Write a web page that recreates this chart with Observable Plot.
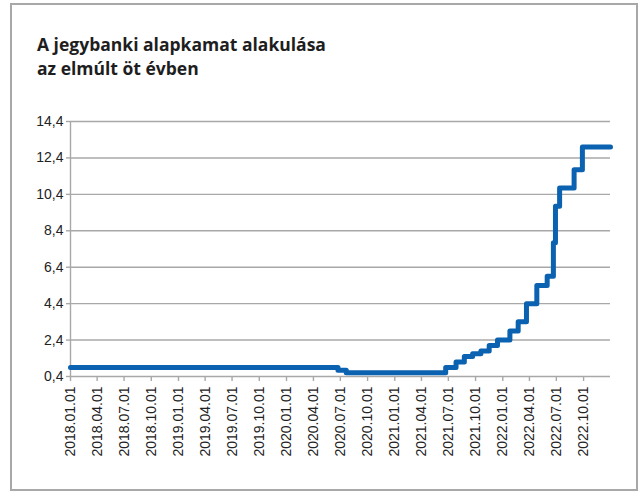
<!DOCTYPE html>
<html>
<head>
<meta charset="utf-8">
<script src="https://cdn.jsdelivr.net/npm/d3@7"></script>
<script src="https://cdn.jsdelivr.net/npm/@observablehq/plot@0.6"></script>
<style>
  html, body { margin: 0; padding: 0; background: #fff; }
  #wrap { position: relative; width: 640px; height: 492px; overflow: hidden; }
  #frame { position: absolute; left: 10px; top: 3px; width: 624px; height: 484px; border: 2px solid #a8a8a8; box-sizing: content-box; }
  #title { position: absolute; left: 37px; top: 32px; font-family: "Open Sans", sans-serif; font-weight: 700; font-size: 17.5px; line-height: 24px; color: #1e1e1e; letter-spacing: 0px; }
  #chart { position: absolute; left: 0; top: 100px; }
</style>
</head>
<body>
<div id="wrap">
  <div id="frame"></div>
  <div id="title">A jegybanki alapkamat alakulása<br>az elmúlt öt évben</div>
  <div id="chart"></div>
</div>
<script>
const changeDates = ["2018-01-01","2020-06-23","2020-07-21","2021-06-22","2021-07-27","2021-08-24","2021-09-21","2021-10-19","2021-11-16","2021-12-14","2022-01-25","2022-02-22","2022-03-22","2022-04-26","2022-05-31","2022-06-21","2022-06-28","2022-07-12","2022-08-30","2022-09-27","2022-12-31"];
const rates = [0.9,0.75,0.6,0.9,1.2,1.5,1.65,1.8,2.1,2.4,2.9,3.4,4.4,5.4,5.9,7.75,9.75,10.75,11.75,13.0,13.0];
const yTicks = [0.4,2.4,4.4,6.4,8.4,10.4,12.4,14.4];
const xTickDates = ["2018-01-01","2018-04-01","2018-07-01","2018-10-01","2019-01-01","2019-04-01","2019-07-01","2019-10-01","2020-01-01","2020-04-01","2020-07-01","2020-10-01","2021-01-01","2021-04-01","2021-07-01","2021-10-01","2022-01-01","2022-04-01","2022-07-01","2022-10-01"];

const data = changeDates.map((d, i) => ({date: new Date(d + "T00:00:00Z"), rate: rates[i]}));
const xTicks = xTickDates.map(d => new Date(d + "T00:00:00Z"));
const fmtX = d3.utcFormat("%Y.%m.%d");
const fmtY = v => v.toFixed(1).replace(".", ",");
const grid = "#a8a8a8";

const chart = Plot.plot({
  width: 640,
  height: 360,
  marginLeft: 70,
  marginRight: 30,
  marginTop: 21,
  marginBottom: 84,
  style: {fontFamily: "'Liberation Sans', Arial, sans-serif", fontSize: "14px", color: "#222", background: "transparent"},
  x: {type: "utc", domain: [new Date("2018-01-01T00:00:00Z"), new Date("2022-12-31T00:00:00Z")]},
  y: {domain: [0.4, 14.4]},
  marks: [
    Plot.ruleY(yTicks, {stroke: grid, strokeWidth: 1.4}),
    Plot.ruleX([new Date("2018-01-01T00:00:00Z")], {stroke: grid, strokeWidth: 1.4}),
    Plot.axisY({ticks: yTicks, tickFormat: fmtY, tickSize: 4, tickPadding: 3, stroke: grid, strokeWidth: 1.4, fill: "#222", fontSize: 14, label: null}),
    Plot.axisX({ticks: xTicks, tickFormat: fmtX, tickSize: 5, tickPadding: 5, tickRotate: -90, stroke: grid, strokeWidth: 1.4, fill: "#222", fontSize: 14, label: null}),
    Plot.line(data, {x: "date", y: "rate", curve: "step-after", stroke: "#0b62b0", strokeWidth: 5, strokeLinejoin: "round", strokeLinecap: "round"})
  ]
});
document.getElementById("chart").appendChild(chart);
</script>
</body>
</html>
